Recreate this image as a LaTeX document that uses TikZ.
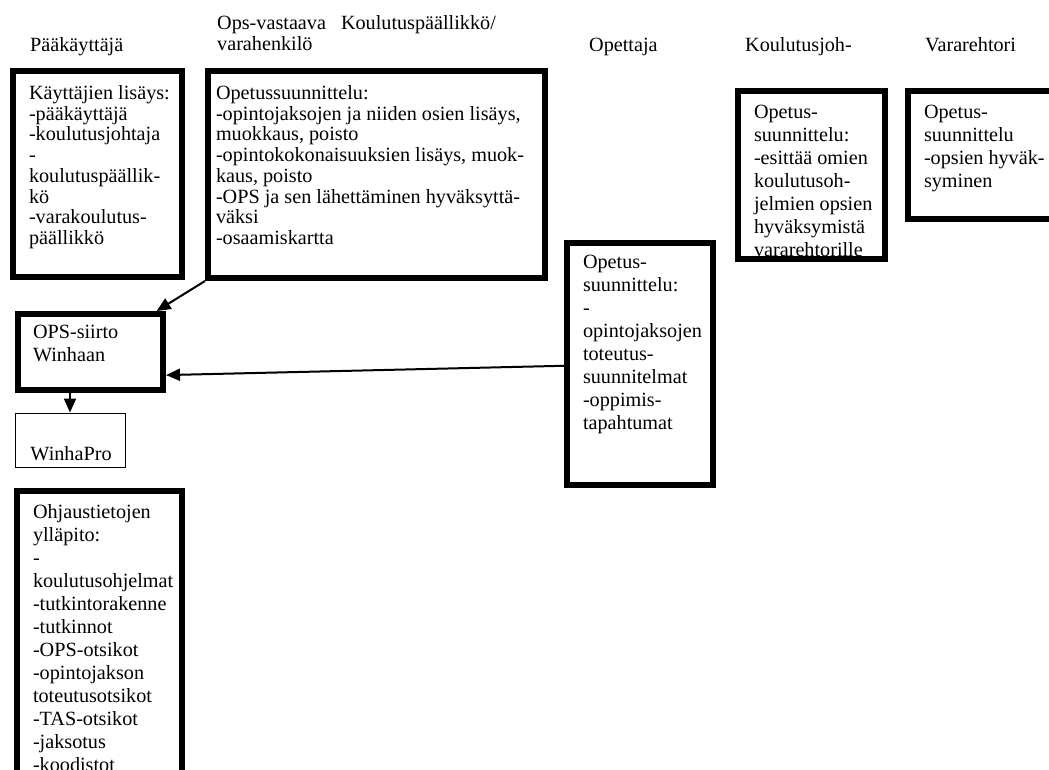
\documentclass[tikz,border=0pt]{standalone}
\usepackage{fontspec}
\setmainfont{Liberation Serif}
\usepackage{tikz}
\usetikzlibrary{arrows.meta}
\newcommand{\boxfont}{\fontsize{20.2pt}{20.7pt}\selectfont}
\newcommand{\wideboxfont}{\fontsize{20.2pt}{23pt}\selectfont}
\begin{document}
\begin{tikzpicture}[
    x=1pt, y=-1pt,
    head/.style={anchor=north west, align=left, inner sep=0, font=\boxfont,
      execute at begin node=\strut},
    txt/.style={head, minimum width=0pt, minimum height=0pt},
    loose/.style={txt, font=\wideboxfont},
    panel/.style={rectangle, draw, inner sep=0},
    heavy/.style={panel, line width=6pt},
    light/.style={panel, line width=1pt},
    arrow/.style={line width=2pt, >={Triangle[length=14pt,width=12pt]}},
    pre/.style={arrow, <-},
    post/.style={arrow, ->}
  ]
  \useasboundingbox (0,0) rectangle (1049,769);
  % column heads
  \node[head] (admin) at (30,36.5) {Pääkäyttäjä};
  \node[head] (opsresp) at (217,15.5) {Ops-vastaava\hspace{15pt}Koulutuspäällikkö/\\varahenkilö};
  \node[head] (teacher) at (589,36.5) {Opettaja};
  \node[head] (director) at (745,36.5) {Koulutusjoh-};
  \node[head] (vicerector) at (925,36.5) {Vararehtori};

  \node[heavy, minimum width=169pt, minimum height=206pt,
    path picture={\node[txt] at ([shift={(13pt,-11.5pt)}]path picture bounding box.north west)
      {Käyttäjien lisäys:\\-pääkäyttäjä\\-koulutusjohtaja\\-\\koulutuspäällik-\\kö\\-varakoulutus-\\päällikkö};}]
    (users) at (97.5,174) {};
  \node[heavy, minimum width=337pt, minimum height=207pt,
    path picture={\node[txt] at ([shift={(5pt,-11.5pt)}]path picture bounding box.north west)
      {Opetussuunnittelu:\\-opintojaksojen ja niiden osien lisäys,\\muokkaus, poisto\\-opintokokonaisuuksien lisäys, muok-\\kaus, poisto\\-OPS ja sen lähettäminen hyväksyttä-\\väksi\\-osaamiskartta};}]
    (plan) at (376.5,174.5) {};
  \node[heavy, minimum width=147pt, minimum height=168pt,
    path picture={\node[loose] at ([shift={(13pt,-10.9pt)}]path picture bounding box.north west)
      {Opetus-\\suunnittelu:\\-esittää omien\\koulutusoh-\\jelmien opsien\\hyväksymistä\\vararehtorille};}]
    (present) at (811.5,175) {};
  \node[heavy, minimum width=152pt, minimum height=128pt,
    path picture={\node[loose] at ([shift={(13pt,-10.9pt)}]path picture bounding box.north west)
      {Opetus-\\suunnittelu\\-opsien hyväk-\\syminen};}]
    (approve) at (984,155) {};

  \node[heavy, minimum width=145pt, minimum height=76pt,
    path picture={\node[loose] at ([shift={(12pt,-7.9pt)}]path picture bounding box.north west)
      {OPS-siirto\\Winhaan};}]
    (transfer) at (90.5,352) {}
    edge [pre] (plan.south west);
  \node[heavy, minimum width=146pt, minimum height=242pt,
    path picture={\node[loose] at ([shift={(13pt,-8.9pt)}]path picture bounding box.north west)
      {Opetus-\\suunnittelu:\\-\\opintojaksojen\\toteutus-\\suunnitelmat\\-oppimis-\\tapahtumat};}]
    (implement) at (640,364) {}
    edge [post] (transfer.343);
  \node[light, minimum width=110pt, minimum height=54pt,
    path picture={\node[loose] at ([shift={(15pt,-30.9pt)}]path picture bounding box.north west)
      {WinhaPro};}]
    (winha) at (70,440) {};
  \draw[post] (transfer.south -| winha.north) -- (winha.north);

  \node[heavy, minimum width=165pt, minimum height=309pt,
    path picture={\node[loose] at ([shift={(13pt,-10.4pt)}]path picture bounding box.north west)
      {Ohjaustietojen\\ylläpito:\\-\\koulutusohjelmat\\-tutkintorakenne\\-tutkinnot\\-OPS-otsikot\\-opintojakson\\toteutusotsikot\\-TAS-otsikot\\-jaksotus\\-koodistot};}]
    (guidance) at (99.5,645.5) {};
\end{tikzpicture}
\end{document}
